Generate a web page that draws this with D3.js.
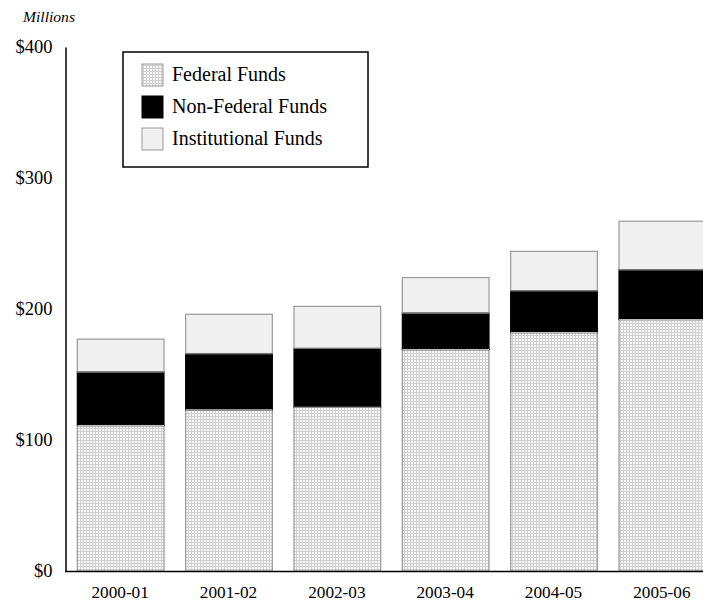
<!DOCTYPE html>
<html><head><meta charset="utf-8">
<script src="https://cdn.jsdelivr.net/npm/d3@7"></script>
<style>
body{margin:0;background:#fff;}
svg{display:block;font-family:"Liberation Serif","DejaVu Serif",serif;}
</style></head>
<body><svg id="chart" width="703" height="601"></svg>
<script>
const categories = ["2000-01","2001-02","2002-03","2003-04","2004-05","2005-06"];
const federal = [111, 123, 125, 169, 182, 192];
const nonFederal = [41, 43, 45, 28, 32, 38];
const institutional = [25, 30, 32, 27, 30, 37];
const seriesNames = ["Federal Funds","Non-Federal Funds","Institutional Funds"];
const yTicks = [0, 100, 200, 300, 400];

const FONT = "Liberation Serif, DejaVu Serif, serif";
const svg = d3.select("#chart");
const defs = svg.append("defs");
const pat = defs.append("pattern").attr("id","dots").attr("patternUnits","userSpaceOnUse")
  .attr("width",3).attr("height",3);
pat.append("rect").attr("width",3).attr("height",3).attr("fill","#f6f6f6");
pat.append("rect").attr("x",0).attr("y",2).attr("width",3).attr("height",1).attr("fill","#d0d0d0");
pat.append("rect").attr("x",2).attr("y",0).attr("width",1).attr("height",3).attr("fill","#d0d0d0");

const fills = ["url(#dots)","#000","#f0f0f0"];
const strokes = ["#999","#000","#999"];

const x = d3.scaleBand().domain(categories).range([66, 716]).paddingInner(0.2).paddingOuter(0.1);
const y = d3.scaleLinear().domain([0,400]).range([571, 47]);

const rows = categories.map((c,i)=>({cat:c, f:federal[i], n:nonFederal[i], inst:institutional[i]}));
const stack = d3.stack().keys(["f","n","inst"])(rows);

stack.forEach((layer,k)=>{
  svg.append("g").selectAll("rect").data(layer).join("rect")
    .attr("x", d=>x(d.data.cat)+0.5)
    .attr("width", x.bandwidth())
    .attr("y", d=>y(d[1]))
    .attr("height", d=>y(d[0])-y(d[1]))
    .attr("fill", fills[k])
    .attr("stroke", strokes[k])
    .attr("stroke-width", 1.2);
});
stack.forEach((layer,k)=>{
  if(k===0) return;
  svg.append("g").selectAll("line").data(layer).join("line")
    .attr("x1", d=>x(d.data.cat)+0.5).attr("x2", d=>x(d.data.cat)+0.5+x.bandwidth())
    .attr("y1", d=>y(d[0])).attr("y2", d=>y(d[0]))
    .attr("stroke", k===2 ? "#777" : "#bbb").attr("stroke-width",1.2);
});

// y axis
const yAxis = svg.append("g").attr("transform","translate(65.5,0)")
  .call(d3.axisLeft(y).tickValues(yTicks).tickSize(0).tickPadding(13).tickFormat(d=>"$"+d))
  .attr("font-family", FONT);
yAxis.select(".domain").attr("stroke","#000").attr("stroke-width",1.5);
yAxis.selectAll("text").attr("font-size",18.5).attr("fill","#000");

// x axis
const xAxis = svg.append("g").attr("transform","translate(0,571.5)")
  .call(d3.axisBottom(x).tickSize(0).tickPadding(14))
  .attr("font-family", FONT);
xAxis.select(".domain").attr("d","M65,0H716").attr("stroke","#000").attr("stroke-width",1.5);
xAxis.selectAll("text").attr("font-size",17.2).attr("fill","#000");

svg.append("text").attr("x",23).attr("y",22).attr("font-size",15.6).attr("font-style","italic")
  .attr("fill","#000").text("Millions");

// legend
const lg = svg.append("g");
lg.append("rect").attr("x",123).attr("y",52).attr("width",245).attr("height",115)
  .attr("fill","#fff").attr("stroke","#000").attr("stroke-width",1.5);
seriesNames.forEach((s,i)=>{
  const yy = 64 + i*32;
  lg.append("rect").attr("x",142).attr("y",yy).attr("width",21).attr("height",22)
    .attr("fill",fills[i]).attr("stroke", i===1?"#000":"#999").attr("stroke-width",1);
  lg.append("text").attr("x",172).attr("y",yy+17).attr("font-size",20).attr("fill","#000").text(s);
});
</script></body></html>
